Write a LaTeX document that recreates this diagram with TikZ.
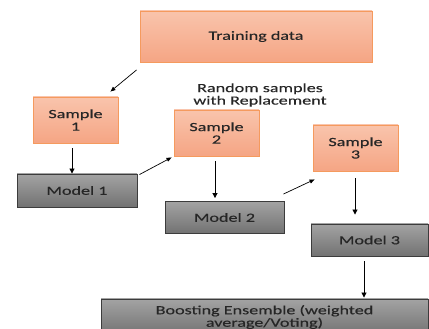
\documentclass[tikz,border=0pt]{standalone}
\usepackage{fontspec}
\setmainfont{Carlito}[FakeStretch=1.45,FakeBold=0.3]
\usetikzlibrary{arrows.meta,calc}
\definecolor{salmontop}{HTML}{F9C4AC}
\definecolor{salmonbot}{HTML}{F5A584}
\definecolor{salmonedge}{HTML}{F59A5E}
\definecolor{greytop}{HTML}{A3A3A3}
\definecolor{greybot}{HTML}{727272}
\definecolor{greyedge}{HTML}{3C3C3C}
\definecolor{inktext}{HTML}{262626}

\begin{document}
\begin{tikzpicture}[x=1pt,y=1pt,
    every node/.style={align=center, text=inktext,
      font=\fontsize{12.5}{12.5}\selectfont},
    samplebox/.style={draw=salmonedge, line width=0.9pt,
      top color=salmontop, bottom color=salmonbot,
      minimum width=85pt, minimum height=46pt},
    modelbox/.style={draw=greyedge, line width=0.9pt,
      top color=greytop, bottom color=greybot,
      minimum width=119pt, minimum height=32pt},
    flow/.style={-{Triangle[length=5pt,width=5pt]}, line width=0.9pt},
    hop/.style={-{Triangle[length=5pt,width=4pt]}, line width=0.7pt}]
  \useasboundingbox (0,0) rectangle (429,329);

  \node[samplebox, minimum width=232pt, minimum height=51pt] (train) at (256,292.5) {Training data};
  \node (note) at (260,234) {Random samples\\with Replacement};

  \node[samplebox] (samp1) at (75.5,209) {Sample\\1};
  \node[samplebox] (samp2) at (216.5,196) {Sample\\2};
  \node[samplebox] (samp3) at (355.5,181) {Sample\\3};

  \node[modelbox, minimum width=120pt, minimum height=33pt] (mod1) at (77,138.5) {Model 1};
  \node[modelbox] (mod2) at (224.5,111.5) {Model 2};
  \node[modelbox, minimum width=117pt] (mod3) at (369.5,89) {Model 3};

  \node[modelbox, minimum width=327pt, minimum height=36pt] (boost) at (264.5,12) {Boosting Ensemble (weighted\\average/Voting)};

  \draw[hop] ($(train.south west)+(-3,-7.5)$) -- ($(samp1.north east)+(-8,5)$);
  \draw[flow] ($(samp1.south)+(-3.5,-5)$) -- ($(samp1.south |- mod1.north)+(-3.5,0)$);
  \draw[hop] ($(mod1.north east)+(2,-1)$) -- ($(samp2.south west)+(-2,-1)$);
  \draw[flow] ($(samp2.south)+(-1.5,-5)$) -- ($(samp2.south |- mod2.north)+(-1.5,3)$);
  \draw[hop] ($(mod2.north east)+(-1,7)$) -- ($(samp3.south west)+(2,-8)$);
  \draw[flow] ($(samp3.south)+(-0.5,-7)$) -- ($(samp3.south |- mod3.north)+(-0.5,9)$);
  \draw[flow] ($(mod3.south)+(-5.5,-5)$) -- ($(mod3.south |- boost.north)+(-5.5,1)$);
\end{tikzpicture}
\end{document}
